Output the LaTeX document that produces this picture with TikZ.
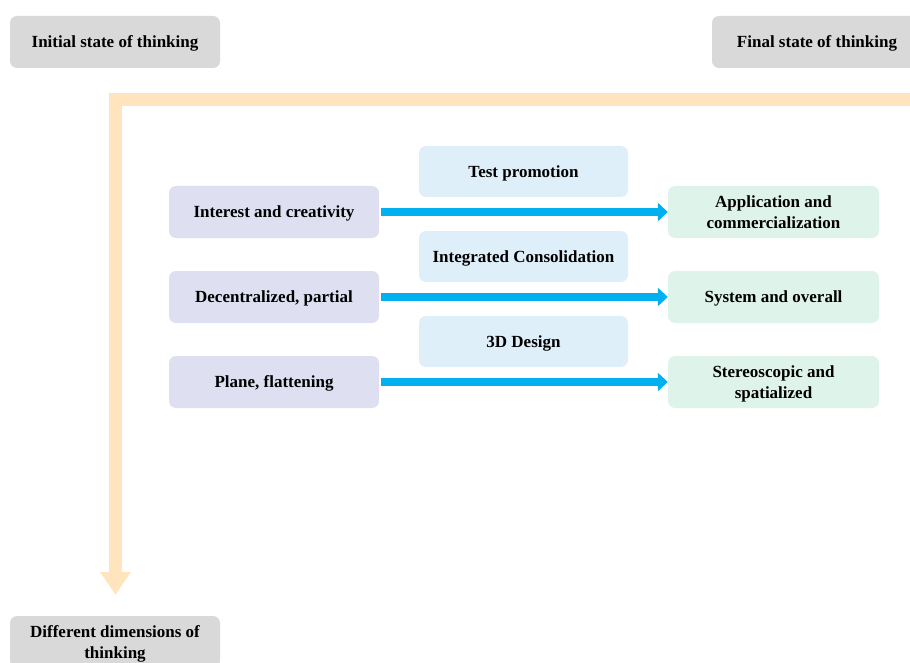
\documentclass[tikz,border=0pt]{standalone}
\usepackage{fontspec}
\setmainfont{Liberation Serif}
\usetikzlibrary{arrows.meta}
\definecolor{graybox}{RGB}{217,217,217}
\definecolor{leftbox}{RGB}{222,224,241}
\definecolor{midbox}{RGB}{222,239,249}
\definecolor{rightbox}{RGB}{222,243,234}
\definecolor{orangebar}{RGB}{255,228,190}
\definecolor{bluearrow}{RGB}{0,176,240}
\tikzset{
  box/.style={rounded corners=7pt, minimum width=210pt, minimum height=52pt, inner sep=2pt,
    align=center, font=\fontsize{17}{20.5}\selectfont\bfseries, text=black, text depth=0pt},
  graynode/.style={box, fill=graybox},
  leftnode/.style={box, fill=leftbox},
  midnode/.style={box, fill=midbox, minimum width=209pt, minimum height=51pt},
  rightnode/.style={box, fill=rightbox, minimum width=211pt},
  flow/.style={draw=bluearrow, line width=8pt, -{Triangle[length=10pt,width=18pt]}, shorten <=2pt},
  bigflow/.style={draw=orangebar, line width=13.5pt, line join=miter, -{Triangle[length=23pt,width=29pt]}}
}
\begin{document}
\begin{tikzpicture}[x=1pt,y=-1pt]
\useasboundingbox (0,0) rectangle (910,663);
% orange L arrow
\coordinate (oa) at (930,99.5);
\coordinate (ob) at (115.5,99.5);
\coordinate (oc) at (115.5,595);
\draw[bigflow] (oa) -- (ob) -- (oc);
% gray corner boxes
\node[graynode] (init) at (115,42) {Initial state of thinking};
\node[graynode] (final) at (817,42) {Final state of thinking};
\node[graynode] (diff) at (115,642) {Different dimensions of\\thinking};
% left boxes
\node[leftnode] (l1) at (274,212) {Interest and creativity};
\node[leftnode] (l2) at (274,297) {Decentralized, partial};
\node[leftnode] (l3) at (274,382) {Plane, flattening};
% middle boxes
\node[midnode] (m1) at (523.5,171.5) {Test promotion};
\node[midnode] (m2) at (523.5,256.5) {Integrated Consolidation};
\node[midnode] (m3) at (523.5,341.5) {3D Design};
% right boxes
\node[rightnode] (r1) at (773.5,212) {Application and\\commercialization};
\node[rightnode] (r2) at (773.5,297) {System and overall};
\node[rightnode] (r3) at (773.5,382) {Stereoscopic and\\spatialized};
% arrows
\draw[flow] (l1.east) -- (r1.west);
\draw[flow] (l2.east) -- (r2.west);
\draw[flow] (l3.east) -- (r3.west);
\end{tikzpicture}
\end{document}
